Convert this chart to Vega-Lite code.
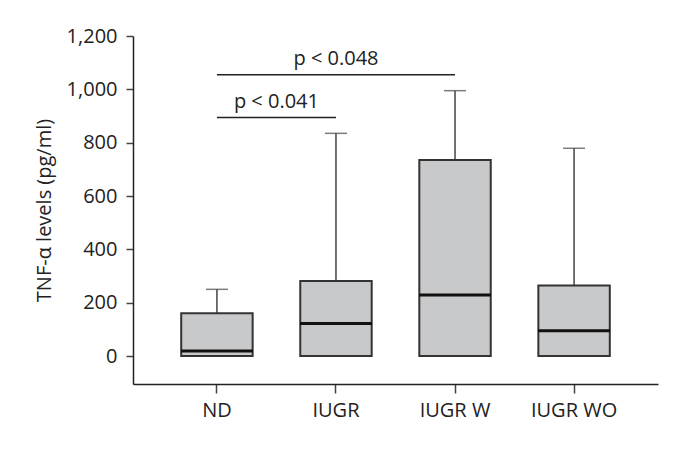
{
  "$schema": "https://vega.github.io/schema/vega-lite/v6.json",
  "width": 525,
  "height": 348,
  "autosize": "none",
  "padding": {"left": 133, "top": 36, "right": 34, "bottom": 66},
  "background": "white",
  "config": {
    "font": "Open Sans",
    "view": {"stroke": null},
    "axis": {"grid": false, "domainColor": "#222", "domainWidth": 1.5, "tickColor": "#444", "tickWidth": 1.5, "labelColor": "#222", "labelFontSize": 20, "titleColor": "#222", "titleFontSize": 20, "titleFontWeight": "normal"}
  },
  "datasets": {
    "boxes": [
      {"group": "ND", "lower": 0, "q1": 0, "median": 19, "q3": 160, "upper": 250},
      {"group": "IUGR", "lower": 0, "q1": 0, "median": 122, "q3": 281, "upper": 835},
      {"group": "IUGR W", "lower": 0, "q1": 0, "median": 229, "q3": 735, "upper": 995},
      {"group": "IUGR WO", "lower": 0, "q1": 0, "median": 95, "q3": 264, "upper": 779}
    ],
    "sig": [
      {"from": "ND", "to": "IUGR", "mid": "ND", "y": 894, "ty": 953, "label": "p < 0.041"},
      {"from": "ND", "to": "IUGR W", "mid": "IUGR", "y": 1055, "ty": 1112, "label": "p < 0.048"}
    ]
  },
  "data": {"name": "boxes"},
  "encoding": {
    "x": {
      "field": "group", "type": "nominal", "sort": null,
      "scale": {"domain": ["ND", "IUGR", "IUGR W", "IUGR WO"], "paddingInner": 0.4, "paddingOuter": 0.405},
      "axis": {"title": null, "labelAngle": 0, "tickSize": 9, "labelPadding": 7}
    }
  },
  "layer": [
    {
      "mark": {"type": "rule", "color": "#444", "strokeWidth": 1.5},
      "encoding": {
        "y": {
          "field": "q3", "type": "quantitative",
          "scale": {"domain": [-105, 1200], "nice": false, "zero": false},
          "axis": {"values": [0, 200, 400, 600, 800, 1000, 1200], "format": ",.0f", "tickSize": 7, "labelPadding": 9, "title": "TNF-α levels (pg/ml)", "titleX": -89, "titleY": 174, "titleAngle": -90, "titleAlign": "center", "titleBaseline": "middle"}
        },
        "y2": {"field": "upper"}
      }
    },
    {
      "mark": {"type": "tick", "color": "#444", "thickness": 1.5, "size": 22},
      "encoding": {"y": {"field": "upper", "type": "quantitative"}}
    },
    {
      "mark": {"type": "tick", "color": "#444", "thickness": 1.5, "size": 22},
      "encoding": {"y": {"field": "lower", "type": "quantitative"}}
    },
    {
      "mark": {"type": "bar", "fill": "#c8c9cb", "stroke": "#333", "strokeWidth": 2},
      "encoding": {
        "y": {"field": "q1", "type": "quantitative"},
        "y2": {"field": "q3"}
      }
    },
    {
      "mark": {"type": "tick", "color": "#111", "thickness": 3, "size": 72, "opacity": 1},
      "encoding": {"y": {"field": "median", "type": "quantitative"}}
    },
    {
      "data": {"name": "sig"},
      "mark": {"type": "rule", "color": "#222", "strokeWidth": 1.5},
      "encoding": {
        "x": {"field": "from", "type": "nominal", "sort": null},
        "x2": {"field": "to"},
        "y": {"field": "y", "type": "quantitative"}
      }
    },
    {
      "data": {"name": "sig"},
      "transform": [{"filter": "datum.label == 'p < 0.041'"}],
      "mark": {"type": "text", "fontSize": 20, "color": "#222", "align": "center", "baseline": "middle"},
      "encoding": {
        "x": {"field": "mid", "type": "nominal", "sort": null, "bandPosition": 1.3333},
        "y": {"field": "ty", "type": "quantitative"},
        "text": {"field": "label"}
      }
    },
    {
      "data": {"name": "sig"},
      "transform": [{"filter": "datum.label == 'p < 0.048'"}],
      "mark": {"type": "text", "fontSize": 20, "color": "#222", "align": "center", "baseline": "middle"},
      "encoding": {
        "x": {"field": "mid", "type": "nominal", "sort": null},
        "y": {"field": "ty", "type": "quantitative"},
        "text": {"field": "label"}
      }
    }
  ]
}
